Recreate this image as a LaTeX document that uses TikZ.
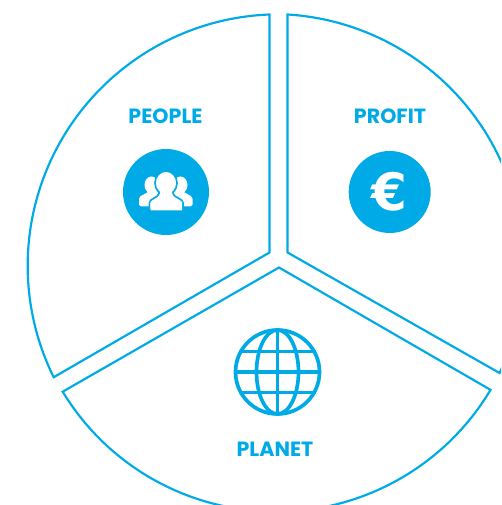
\documentclass[tikz,border=0pt]{standalone}
\usepackage{fontspec}
\setmainfont{Poppins}
\newfontfamily\eurofont{DejaVu Sans}
\usetikzlibrary{positioning}
\definecolor{skyblue}{RGB}{0,170,230}

\begin{document}
\begin{tikzpicture}[
        x=0.03cm, y=0.03cm,
        wedge/.style={draw=skyblue, line width=0.065cm},
        title/.style={text=skyblue, font=\bfseries\fontsize{17.6pt}{20pt}\selectfont, inner sep=0pt},
        disc/.style={circle, fill=skyblue, text=white, inner sep=0pt},
        icon/.style={fill=white, rounded corners=1.5},
        grid line/.style={draw=skyblue, line width=0.11cm}
    ]

    % Seitenrahmen
    \useasboundingbox (0,0) rectangle (501,505);
    \clip (0,0) rectangle (501,505);

    % Linkes Segment
    \coordinate (people_corner) at (269.5,252.5);
    \draw[wedge] (people_corner) -- ++(0,238) arc[start angle=92.2, end angle=206.3, radius=251.5] -- cycle;

    % Rechtes Segment
    \coordinate (profit_corner) at (287.5,252.5);
    \draw[wedge] (profit_corner) -- ++(0,238) arc[start angle=86.5, end angle=-25.3, radius=251.5] -- cycle;

    % Unteres Segment
    \coordinate (planet_corner) at (279,237.5);
    \draw[wedge] (planet_corner) -- (62.7,113.3) arc[start angle=211.3, end angle=329.2, radius=249.7] -- cycle;

    % Titel
    \node[title] (people) at (165.5,388.5) {PEOPLE};
    \node[title] (profit) at (390,388.5) {PROFIT};
    \node[title] (planet) at (275,56) {PLANET};

    % Personen
    \node[disc, minimum size=2.58cm] (people_disc) at (166,313) {};
    \fill[icon] (139,298.5) -- (139,308) -- (150,314) -- (182,314) -- (192.5,308) -- (192.5,298.5) -- cycle;
    \fill[white] (151.5,320) ellipse (7 and 8.5);
    \fill[white] (180.5,320) ellipse (7 and 8.5);
    \draw[draw=skyblue, line width=0.05cm, icon] (149.5,294) -- (149.5,304) -- (159,310) -- (159,316) -- (173,316) -- (173,310) -- (183,304) -- (183,294) -- cycle;
    \fill[white, draw=skyblue, line width=0.05cm] (166,322) ellipse (11 and 12);
    \fill[white] (150.5,294.5) -- (150.5,303) -- (160,309) -- (160,316) -- (172,316) -- (172,309) -- (182,303) -- (182,294.5) -- cycle;

    % Euro
    \node[disc, minimum size=2.46cm, font=\eurofont\bfseries\fontsize{44pt}{44pt}\selectfont] (profit_disc) at (389.7,313) {€};

    % Globus
    \node[circle, grid line, minimum size=2.52cm, inner sep=0pt] (globe) at (277.5,133) {};
    \draw[grid line] (globe.center) ellipse (21 and 42);
    \draw[grid line] (globe.north) -- (globe.south);
    \draw[grid line] (globe.west) -- (globe.east);
    \draw[grid line] (globe.152) -- (globe.28);
    \draw[grid line] (globe.-152) -- (globe.-28);

\end{tikzpicture}
\end{document}
